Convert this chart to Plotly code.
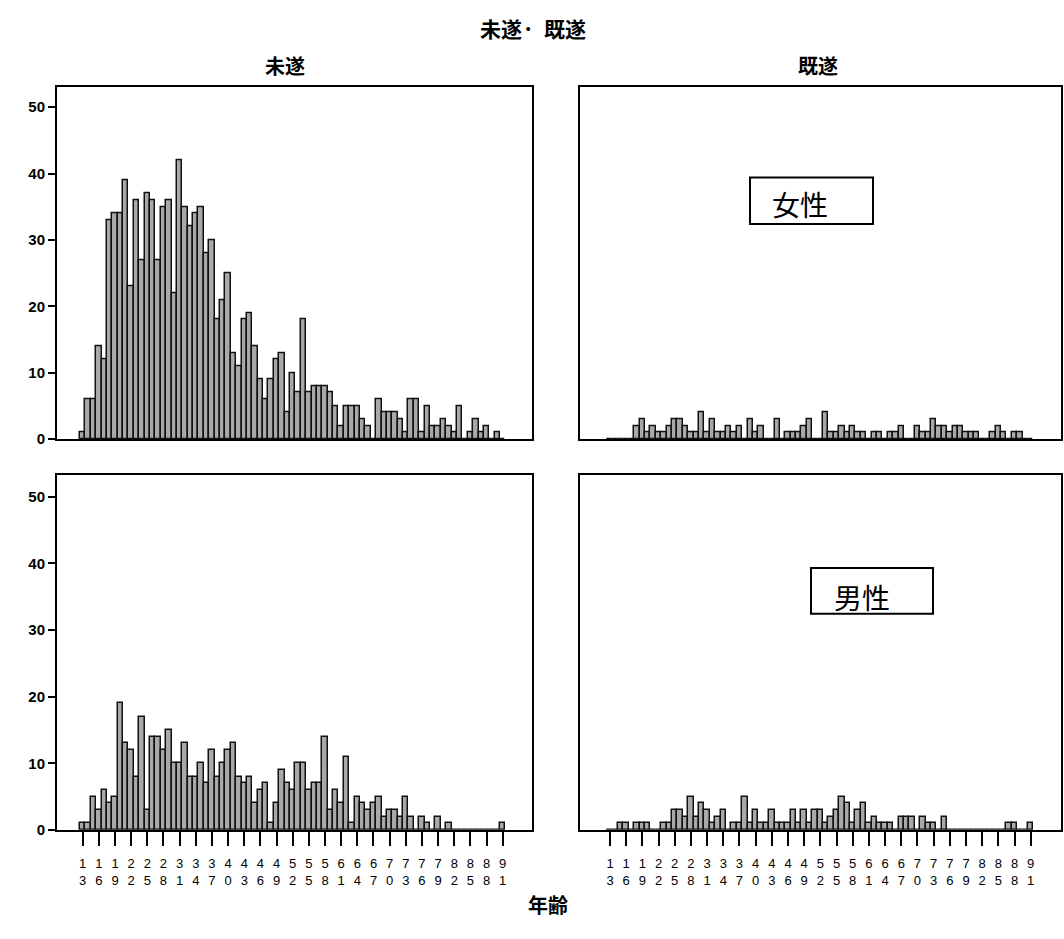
import plotly.graph_objects as go

W, H = 1064, 939

ages = [13, 14, 15, 16, 17, 18, 19, 20, 21, 22, 23, 24, 25, 26, 27, 28, 29, 30,
        31, 32, 33, 34, 35, 36, 37, 38, 39, 40, 41, 42, 43, 44, 45, 46, 47, 48,
        49, 50, 51, 52, 53, 54, 55, 56, 57, 58, 59, 60, 61, 62, 63, 64, 65, 66,
        67, 68, 69, 70, 71, 72, 73, 74, 75, 76, 77, 78, 79, 80, 81, 82, 83, 84,
        85, 86, 87, 88, 89, 90, 91]

tick_ages = [13, 16, 19, 22, 25, 28, 31, 34, 37, 40, 43, 46, 49, 52, 55, 58,
             61, 64, 67, 70, 73, 76, 79, 82, 85, 88, 91]
y_ticks = [0, 10, 20, 30, 40, 50]

# 女性 未遂
female_attempt = [1, 6, 6, 14, 12, 33, 34, 34, 39, 23, 36, 27, 37, 36, 27,
                  35, 36, 22, 42, 35, 32, 34, 35, 28, 30, 18, 21, 25, 13, 11,
                  18, 19, 14, 9, 6, 9, 12, 13, 4, 10, 7, 18, 7, 8, 8,
                  8, 7, 5, 2, 5, 5, 5, 3, 2, 0, 6, 4, 4, 4, 3,
                  1, 6, 6, 1, 5, 2, 2, 3, 2, 1, 5, 0, 1, 3, 1,
                  2, 0, 1, 0]
# 女性 既遂
female_completed = [0, 0, 0, 0, 0, 2, 3, 1, 2, 1, 1, 2, 3, 3, 2,
                    1, 1, 4, 1, 3, 1, 1, 2, 1, 2, 0, 3, 1, 2, 0,
                    0, 3, 0, 1, 1, 1, 2, 3, 0, 0, 4, 1, 1, 2, 1,
                    2, 1, 1, 0, 1, 1, 0, 1, 1, 2, 0, 0, 2, 1, 1,
                    3, 2, 2, 1, 2, 2, 1, 1, 1, 0, 0, 1, 2, 1, 0,
                    1, 1, 0, 0]
# 男性 未遂
male_attempt = [1, 1, 5, 3, 6, 4, 5, 19, 13, 12, 8, 17, 3, 14, 14,
                12, 15, 10, 10, 13, 8, 8, 10, 7, 12, 8, 10, 12, 13, 8,
                7, 8, 4, 6, 7, 1, 4, 9, 7, 6, 10, 10, 6, 7, 7,
                14, 3, 6, 4, 11, 1, 5, 4, 3, 4, 5, 2, 3, 3, 2,
                5, 2, 0, 2, 1, 0, 2, 0, 1, 0, 0, 0, 0, 0, 0,
                0, 0, 0, 1]
# 男性 既遂
male_completed = [0, 0, 1, 1, 0, 1, 1, 1, 0, 0, 1, 1, 3, 3, 2,
                  5, 2, 4, 3, 1, 2, 3, 0, 1, 1, 5, 1, 3, 1, 1,
                  3, 1, 1, 1, 3, 1, 3, 1, 3, 3, 1, 2, 3, 5, 4,
                  1, 3, 4, 1, 2, 1, 1, 1, 0, 2, 2, 2, 0, 2, 1,
                  1, 0, 2, 0, 0, 0, 0, 0, 0, 0, 0, 0, 0, 0, 1,
                  1, 0, 0, 1]

tick_text = ["<br>".join(str(a)) for a in tick_ages]


def px(x):
    return x / W


def py(y):
    return 1 - y / H


FILL = "#a9a9a9"
LINE = "#111111"

fig = go.Figure()
series = [(female_attempt, "x", "y"), (female_completed, "x2", "y2"),
          (male_attempt, "x3", "y3"), (male_completed, "x4", "y4")]
for vals, xa, ya in series:
    fig.add_trace(go.Bar(
        x=ages, y=vals, xaxis=xa, yaxis=ya, width=1.0,
        marker=dict(color=FILL, line=dict(color=LINE, width=1.5)),
        showlegend=False, hoverinfo="x+y"))

left_dom = [px(57), px(532)]
right_dom = [px(580), px(1061)]
top_dom = [py(443), py(88)]
bot_dom = [py(837), py(479)]
left_range = [13 - (82.7 - 57) / 5.385, 13 + (532 - 82.7) / 5.385]
right_range = [13 - (610 - 580) / 5.394, 13 + (1061 - 610) / 5.394]

common_axis = dict(showline=True, mirror=True, linecolor="black", linewidth=2,
                   showgrid=False, zeroline=False, fixedrange=True)

xfont = dict(family="Liberation Sans, Arial, sans-serif", size=13, color="black")
yfont = dict(family="Liberation Sans, Arial, sans-serif", size=15, color="black",
             weight="bold")

xtick_common = dict(tickmode="array", tickvals=tick_ages, ticktext=tick_text,
                    ticks="outside", ticklen=14, tickwidth=2, tickcolor="black",
                    tickfont=xfont, tickangle=0, ticklabelstandoff=7)

fig.update_layout(
    width=W, height=H, margin=dict(l=0, r=0, t=0, b=0),
    plot_bgcolor="white", paper_bgcolor="white", bargap=0,
    xaxis=dict(domain=left_dom, range=left_range, anchor="y",
               showticklabels=False, ticks="", **common_axis),
    xaxis2=dict(domain=right_dom, range=right_range, anchor="y2",
                showticklabels=False, ticks="", **common_axis),
    xaxis3=dict(domain=left_dom, range=left_range, anchor="y3",
                **xtick_common, **common_axis),
    xaxis4=dict(domain=right_dom, range=right_range, anchor="y4",
                **xtick_common, **common_axis),
    yaxis=dict(domain=top_dom, range=[0, 53], anchor="x",
               tickmode="array", tickvals=y_ticks, ticks="outside",
               ticklen=7, tickwidth=2, tickcolor="black", tickfont=yfont,
               **common_axis),
    yaxis2=dict(domain=top_dom, range=[0, 53], anchor="x2",
                showticklabels=False, ticks="", **common_axis),
    yaxis3=dict(domain=bot_dom, range=[0, 53.3], anchor="x3",
                tickmode="array", tickvals=y_ticks, ticks="outside",
                ticklen=7, tickwidth=2, tickcolor="black", tickfont=yfont,
                **common_axis),
    yaxis4=dict(domain=bot_dom, range=[0, 53.3], anchor="x4",
                showticklabels=False, ticks="", **common_axis),
)

tfont = dict(family="Noto Sans CJK JP, sans-serif", size=20, color="black",
             weight="bold")
annos = [
    dict(text="未遂·\u00a0\u00a0既遂", x=px(533), y=py(28),
         font=dict(tfont, size=21)),
    dict(text="未遂", x=px(285), y=py(66), font=tfont),
    dict(text="既遂", x=px(818), y=py(66), font=tfont),
    dict(text="年齢", x=px(548), y=py(912), font=tfont),
]
for a in annos:
    fig.add_annotation(xref="paper", yref="paper", showarrow=False,
                       xanchor="center", yanchor="middle", **a)

bfont = dict(family="Noto Sans CJK JP, sans-serif", size=28, color="black")
boxes = [("女性", 750, 873, 179, 226, 800, 206),
         ("男性", 811, 933, 573, 619, 862, 602)]
for label, x0, x1, y0, y1, tx, ty in boxes:
    fig.add_shape(type="rect", xref="paper", yref="paper",
                  x0=px(x0), x1=px(x1), y0=py(y1), y1=py(y0),
                  line=dict(color="black", width=2), fillcolor="white")
    fig.add_annotation(xref="paper", yref="paper", showarrow=False,
                       x=px(tx), y=py(ty), text=label, font=bfont,
                       xanchor="center", yanchor="middle")

fig.write_html(
    "out.html",
    config={"displayModeBar": False},
    post_script="document.body.style.margin='0px';"
                "document.body.style.overflow='hidden';")
